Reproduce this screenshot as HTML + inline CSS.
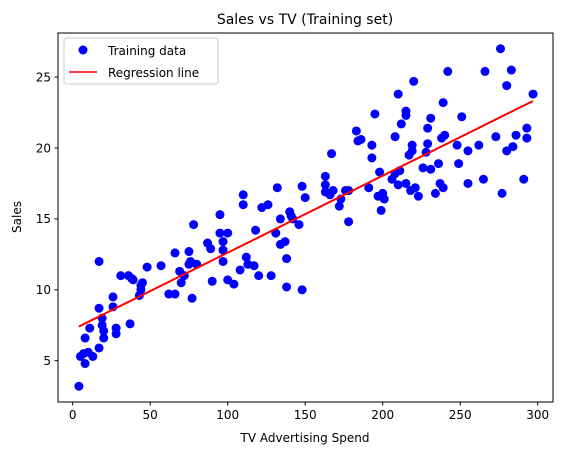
<!DOCTYPE html>
<html><head><meta charset="utf-8"><style>
html,body{margin:0;padding:0;background:#fff;}
svg{display:block;font-family:"DejaVu Sans","Liberation Sans",sans-serif;}
</style></head><body>
<svg id="chart" width="562" height="455" viewBox="0 0 562 455">
<rect x="0" y="0" width="562" height="455" fill="#fff"/>
<text x="305" y="24" text-anchor="middle" font-size="14">Sales vs TV (Training set)</text>
<g id="points"></g>
<g id="line"></g>
<g id="xticks"></g>
<g id="yticks"></g>
<rect x="58" y="33" width="495" height="369" fill="none" stroke="#000" stroke-width="1"/>
<text x="305" y="442" text-anchor="middle" font-size="12">TV Advertising Spend</text>
<text x="21" y="217" text-anchor="middle" font-size="12" transform="rotate(-90 21 217)">Sales</text>
<g>
<rect x="64" y="38" width="154" height="46" rx="3" fill="#fff" fill-opacity="0.8" stroke="#ccc"/>
<circle cx="83" cy="50" r="4.5" fill="#0000ff"/>
<text x="108" y="55" font-size="12">Training data</text>
<line x1="69" y1="72" x2="97" y2="72" stroke="#ff0000" stroke-width="1.5"/>
<text x="108" y="77" font-size="12">Regression line</text>
</g>
</svg>
<script>
const tvValues=[4,5,7,8,8,10,11,13,17,17,17,19,19,20,20,26,26,28,28,31,36,37,38,39,43,44,44,45,48,57,62,66,66,69,70,72,75,75,76,77,78,80,87,89,90,95,95,97,97,97,100,100,104,108,110,110,112,113,117,118,120,122,126,128,131,132,134,134,137,138,138,140,141,142,146,148,148,150,163,163,163,166,167,168,173,172,176,178,178,183,184,186,191,193,193,195,197,198,199,200,201,206,208,208,210,210,211,212,215,215,215,217,218,219,219,220,221,223,226,228,229,229,231,231,234,236,237,238,239,239,240,242,248,249,251,255,255,262,265,266,273,276,277,280,280,283,284,286,291,293,293,297];
const salesValues=[3.2,5.3,5.5,6.6,4.8,5.6,7.3,5.3,8.7,12.0,5.9,8.0,7.5,6.6,7.1,9.5,8.8,6.9,7.3,11.0,11.0,7.6,10.8,10.7,9.6,10.3,10.0,10.5,11.6,11.7,9.7,12.6,9.7,11.3,10.5,11.0,11.8,12.7,12.0,9.4,14.6,11.8,13.3,12.9,10.6,15.3,14.0,12.8,12.0,13.4,14.0,10.7,10.4,11.4,16.7,16.0,12.3,11.8,11.7,14.2,11.0,15.8,16.0,11.0,14.0,17.2,13.2,15.0,13.4,12.2,10.2,15.5,15.2,15.0,14.6,17.3,10.0,16.5,17.4,16.9,18.0,16.7,19.6,17.0,16.4,15.9,17.0,14.8,17.0,21.2,20.5,20.6,17.2,20.2,19.3,22.4,16.6,18.3,15.6,16.8,16.4,17.8,18.2,20.8,23.8,17.4,18.4,21.7,22.6,22.3,17.5,19.5,17.0,19.8,20.2,24.7,17.2,16.6,18.6,19.7,21.4,20.3,22.1,18.5,16.8,18.9,17.5,20.7,23.2,17.2,20.9,25.4,20.2,18.9,22.2,17.5,19.8,20.2,17.8,25.4,20.8,27.0,16.8,24.4,19.8,25.5,20.1,20.9,17.8,21.4,20.7,23.8];
const regressionCoef=[7.19,0.0543];
const lineXRange=[4,297];
const xTickLabels=[0,50,100,150,200,250,300];
const yTickLabels=[5,10,15,20,25];

const NS="http://www.w3.org/2000/svg";
function xs(v){return 72.7+v*1.55;}
function ys(v){return 360.7-(v-5)*14.18;}
function mk(tag,attrs,parent){const e=document.createElementNS(NS,tag);for(const k in attrs)e.setAttribute(k,attrs[k]);parent.appendChild(e);return e;}

const pg=document.getElementById('points');
tvValues.forEach((tv,i)=>{
  const c=mk('circle',{cx:xs(tv),cy:ys(salesValues[i]),r:4.5,fill:'#0000ff'},pg);
  
  
});
const lg=document.getElementById('line');
const l=mk('line',{x1:xs(lineXRange[0]),y1:ys(regressionCoef[0]+regressionCoef[1]*lineXRange[0]),x2:xs(lineXRange[1]),y2:ys(regressionCoef[0]+regressionCoef[1]*lineXRange[1]),stroke:'#ff0000','stroke-width':2},lg);



const xg=document.getElementById('xticks');
xTickLabels.forEach(t=>{
  const tk=mk('line',{x1:xs(t),y1:402,x2:xs(t),y2:405.5,stroke:'#000'},xg);
  
  
  const tx=mk('text',{x:xs(t),y:419,'text-anchor':'middle','font-size':12},xg);
  tx.textContent=t;
  
  
});
const yg=document.getElementById('yticks');
yTickLabels.forEach(t=>{
  const tk=mk('line',{x1:54.5,y1:ys(t),x2:58,y2:ys(t),stroke:'#000'},yg);
  
  
  const tx=mk('text',{x:51,y:ys(t)+4.3,'text-anchor':'end','font-size':12},yg);
  tx.textContent=t;
  
  
});
</script>
</body></html>
